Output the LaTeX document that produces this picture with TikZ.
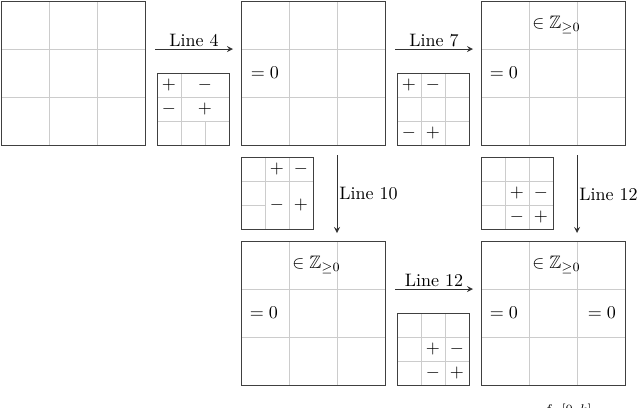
\documentclass[tikz,border=0pt]{standalone}
\usepackage{amssymb}
\begin{document}
\begin{tikzpicture}[x=0.555pt,y=-0.555pt,
  gl/.style={draw=black!20,line width=0.5pt},
  frame/.style={draw=black!75,line width=0.7pt},
  arr/.style={->,>=stealth,line width=0.5pt,black!80},
  lab/.style={inner sep=1pt}]
\useasboundingbox (0,0) rectangle (640,407);
% big grids
\foreach \x/\y in {1/1,241/1,481/1,241/241,481/241}{
  \draw[gl] (\x+48,\y) -- (\x+48,\y+144) (\x+96,\y) -- (\x+96,\y+144)
            (\x,\y+48) -- (\x+144,\y+48) (\x,\y+96) -- (\x+144,\y+96);
}
\node[frame,minimum width=144*0.555pt,minimum height=144*0.555pt,inner sep=0,anchor=north west] (g1) at (1,1) {};
\node[frame,minimum width=144*0.555pt,minimum height=144*0.555pt,inner sep=0,anchor=north west] (g2) at (241,1) {};
\node[frame,minimum width=144*0.555pt,minimum height=144*0.555pt,inner sep=0,anchor=north west] (g3) at (481,1) {};
\node[frame,minimum width=144*0.555pt,minimum height=144*0.555pt,inner sep=0,anchor=north west] (g4) at (241,241) {};
\node[frame,minimum width=144*0.555pt,minimum height=144*0.555pt,inner sep=0,anchor=north west] (g5) at (481,241) {};
% labels in big grids
\node (t2) at (265,73) {$=0$};
\node (t3a) at (504,73) {$=0$};
\node[anchor=west] (t3b) at (526,25) {$\in\mathbb{Z}_{\geq0}$};
\node (t4a) at (264,313) {$=0$};
\node[anchor=west] (t4b) at (286,265) {$\in\mathbb{Z}_{\geq0}$};
\node (t5a) at (504,313) {$=0$};
\node (t5b) at (602,313) {$=0$};
\node[anchor=west] (t5c) at (526,265) {$\in\mathbb{Z}_{\geq0}$};
% small grid A (157,73)
\draw[gl] (181,73) -- (181,145) (205,121) -- (205,145) (157,97) -- (229,97) (157,121) -- (229,121);
\node[frame,minimum size=72*0.555pt,inner sep=0,anchor=north west] (sA) at (157,73) {};
\node (a1) at (169,85) {$+$}; \node (a2) at (205,85) {$-$};
\node (a3) at (169,109) {$-$}; \node (a4) at (205,109) {$+$};
% small grid B (397,73)
\draw[gl] (421,73) -- (421,145) (445,73) -- (445,145) (397,97) -- (469,97) (397,121) -- (469,121);
\node[frame,minimum size=72*0.555pt,inner sep=0,anchor=north west] (sB) at (397,73) {};
\node (b1) at (409,85) {$+$}; \node (b2) at (433,85) {$-$};
\node (b3) at (409,133) {$-$}; \node (b4) at (433,133) {$+$};
% small grid C (241,157)
\draw[gl] (265,157) -- (265,229) (289,157) -- (289,229) (241,181) -- (313,181) (241,205) -- (265,205);
\node[frame,minimum size=72*0.555pt,inner sep=0,anchor=north west] (sC) at (241,157) {};
\node (c1) at (277,169) {$+$}; \node (c2) at (301,169) {$-$};
\node (c3) at (277,205) {$-$}; \node (c4) at (301,205) {$+$};
% small grid D (481,157)
\draw[gl] (505,157) -- (505,229) (529,157) -- (529,229) (481,181) -- (553,181) (481,205) -- (553,205);
\node[frame,minimum size=72*0.555pt,inner sep=0,anchor=north west] (sD) at (481,157) {};
\node (d1) at (517,193) {$+$}; \node (d2) at (541,193) {$-$};
\node (d3) at (517,217) {$-$}; \node (d4) at (541,217) {$+$};
% small grid E (397,313)
\draw[gl] (421,313) -- (421,385) (445,313) -- (445,385) (397,337) -- (469,337) (397,361) -- (469,361);
\node[frame,minimum size=72*0.555pt,inner sep=0,anchor=north west] (sE) at (397,313) {};
\node (e1) at (433,349) {$+$}; \node (e2) at (457,349) {$-$};
\node (e3) at (433,373) {$-$}; \node (e4) at (457,373) {$+$};
% arrows
\coordinate (p1) at (155,49); \coordinate (q1) at (233,49);
\draw[arr] (p1) -- node[above,lab,black] {Line 4} (q1);
\coordinate (p2) at (395,49); \coordinate (q2) at (473,49);
\draw[arr] (p2) -- node[above,lab,black] {Line 7} (q2);
\coordinate (p3) at (337,155); \coordinate (q3) at (337,233);
\draw[arr] (p3) -- node[right,lab,black] {Line 10} (q3);
\coordinate (p4) at (577,155); \coordinate (q4) at (577,233);
\draw[arr] (p4) -- node[right,lab,black] {Line 12} (q4);
\coordinate (p5) at (395,289); \coordinate (q5) at (473,289);
\draw[arr] (p5) -- node[above,lab,black] {Line 12} (q5);
\node (f) at (568,410) {\scriptsize $f_w[0,k]$};
\end{tikzpicture}
\end{document}
